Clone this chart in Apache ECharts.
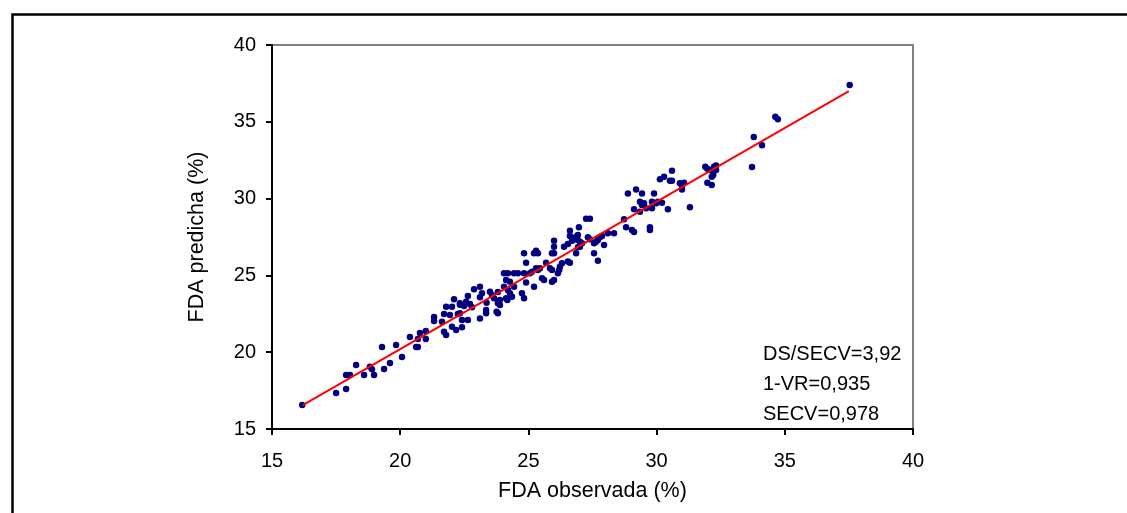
<!DOCTYPE html>
<html>
<head>
<meta charset="utf-8">
<script src="https://cdn.jsdelivr.net/npm/echarts@6/dist/echarts.min.js"></script>
<style>
html,body{margin:0;padding:0;background:#fff;}
#chart{width:1127px;height:513px;}
</style>
</head>
<body>
<div id="chart"></div>
<script>
// Observed FDA (%) and predicted FDA (%)
var obsX = [
16.18,17.5,17.89,17.89,18.04,18.28,18.59,18.82,18.90,18.98,19.37,19.6,19.29,19.84,20.07,20.38,20.62,20.69,20.77,20.69,
21.0,21.0,21.32,21.32,22.1,21.79,22.02,21.71,21.94,21.63,21.71,21.79,22.02,22.18,22.33,22.25,
22.33,22.49,22.57,22.64,22.72,22.8,22.33,22.41,22.64,22.41,23.11,22.88,23.11,23.19,23.11,23.35,23.35,23.5,23.58,23.66,
23.37,23.81,23.81,23.89,23.76,23.81,23.89,24.05,24.05,24.2,24.44,24.59,24.83,24.13,24.28,24.2,24.28,24.36,24.13,24.18,
24.44,24.75,24.83,24.91,24.83,25.22,25.3,25.37,24.91,25.06,25.14,25.22,25.3,25.37,25.45,25.53,25.61,25.69,25.84,25.92,
26.0,26.0,25.92,26.0,26.0,25.92,26.15,26.23,26.31,26.2,26.39,26.54,26.7,26.62,26.78,26.93,26.93,26.86,26.54,26.62,26.97,
26.62,26.86,26.93,27.01,27.09,27.01,27.25,27.4,27.32,27.4,27.56,27.64,27.71,27.79,27.87,27.56,27.71,27.95,28.1,28.34,
28.73,28.81,29.04,29.12,28.88,29.2,29.43,29.35,29.43,29.51,29.12,29.35,29.59,29.74,29.74,29.82,29.9,29.82,29.98,30.05,
30.21,30.13,30.29,30.52,30.6,30.6,30.44,30.91,30.99,30.99,31.07,31.3,
31.9,31.98,32.08,32.24,32.32,32.32,32.15,32.21,31.98,32.15,33.72,33.79,34.11,34.63,34.73,37.53
];
var predY = [
16.56,17.34,17.6,18.52,18.52,19.17,18.52,19.06,18.89,18.52,18.9,19.3,20.34,20.47,19.69,20.99,20.34,20.34,21.25,20.86,
21.38,20.86,22.29,22.03,23.44,22.96,22.96,22.49,22.42,21.99,21.33,21.12,21.66,21.45,23.09,22.49,
23.18,23.0,23.29,23.66,23.14,22.92,22.53,22.1,22.1,21.62,22.2,24.1,24.26,23.83,23.57,22.75,22.53,23.94,23.72,23.51,
23.22,23.92,23.18,23.07,22.64,22.53,23.4,24.26,25.14,25.14,25.14,25.14,25.14,24.7,24.59,24.05,23.83,23.61,23.51,23.4,
24.26,23.83,23.51,25.83,26.44,26.44,26.61,26.44,24.53,25.14,25.24,24.26,25.46,25.35,25.46,24.81,24.7,25.83,25.46,25.35,
26.87,26.44,26.44,27.26,24.7,24.59,25.14,25.57,25.79,25.35,26.87,27.04,27.26,27.56,27.35,27.63,26.83,26.44,25.9,25.83,28.13,
27.91,27.52,27.3,27.19,27.09,26.87,28.69,28.69,27.48,27.35,27.09,27.19,27.3,27.48,27.56,26.44,25.96,26.98,27.74,27.74,
28.65,28.13,27.96,27.83,30.34,30.6,30.34,29.8,29.58,29.69,29.3,29.15,29.37,28.13,27.96,29.37,30.34,29.8,29.69,29.8,
29.73,31.26,31.43,31.17,31.17,31.82,29.3,31.0,30.82,30.6,31.04,29.43,
32.07,31.94,31.86,32.07,32.16,31.86,31.43,31.54,31.04,30.89,32.06,34.01,33.47,35.33,35.16,37.4
];
// Regression line end points
var fitX = [16.2, 37.5];
var fitY = [16.55, 37.0];
// Axis ticks
var axisMin = 15, axisMax = 40, axisStep = 5;
var statLines = ['DS/SECV=3,92', '1-VR=0,935', 'SECV=0,978'];
var xTitle = 'FDA observada (%)';
var yTitle = 'FDA predicha (%)';

var pts = obsX.map(function(x, i){ return [x, predY[i]]; });
var fit = fitX.map(function(x, i){ return [x, fitY[i]]; });

var font = '"Liberation Sans", Arial, sans-serif';
var chart = echarts.init(document.getElementById('chart'), null, {renderer: 'canvas'});
var axisCommon = {
  type: 'value', min: axisMin, max: axisMax, interval: axisStep,
  splitLine: {show: false},
  axisLine: {show: true, lineStyle: {color: '#000', width: 2}},
  axisTick: {show: true, inside: false, length: 6, lineStyle: {color: '#000', width: 2}},
  nameLocation: 'middle',
  nameTextStyle: {color: '#000', fontSize: 21.5, fontFamily: font},
  axisLabel: {color: '#000', fontSize: 20, fontFamily: font}
};
chart.setOption({
  backgroundColor: '#fff',
  animation: false,
  grid: {left: 272, top: 45, width: 641, height: 384, show: true, borderColor: '#808080', borderWidth: 2, backgroundColor: 'transparent'},
  xAxis: Object.assign({}, axisCommon, {
    name: xTitle, nameGap: 51,
    axisLabel: Object.assign({}, axisCommon.axisLabel, {margin: 22})
  }),
  yAxis: Object.assign({}, axisCommon, {
    name: yTitle, nameGap: 64,
    axisLabel: Object.assign({}, axisCommon.axisLabel, {margin: 16})
  }),
  series: [
    {
      type: 'scatter', data: pts, symbol: 'circle', symbolSize: 6.5,
      itemStyle: {color: '#000080', opacity: 1}, z: 2
    },
    {
      type: 'line', data: fit, showSymbol: false, symbol: 'none',
      lineStyle: {color: '#ff0000', width: 2}, z: 3
    }
  ],
  graphic: [
    {type: 'rect', left: 10, top: 12, shape: {x: 0, y: 0, width: 1200, height: 600}, style: {fill: 'none', stroke: '#000', lineWidth: 2.5}, silent: true},
    {type: 'text', x: 763, y: 354, style: {text: statLines[0], fill: '#000', font: '20px ' + font, textVerticalAlign: 'middle', verticalAlign: 'middle'}},
    {type: 'text', x: 763, y: 384, style: {text: statLines[1], fill: '#000', font: '20px ' + font, textVerticalAlign: 'middle', verticalAlign: 'middle'}},
    {type: 'text', x: 763, y: 414, style: {text: statLines[2], fill: '#000', font: '20px ' + font, textVerticalAlign: 'middle', verticalAlign: 'middle'}}
  ]
});
</script>
</body>
</html>
